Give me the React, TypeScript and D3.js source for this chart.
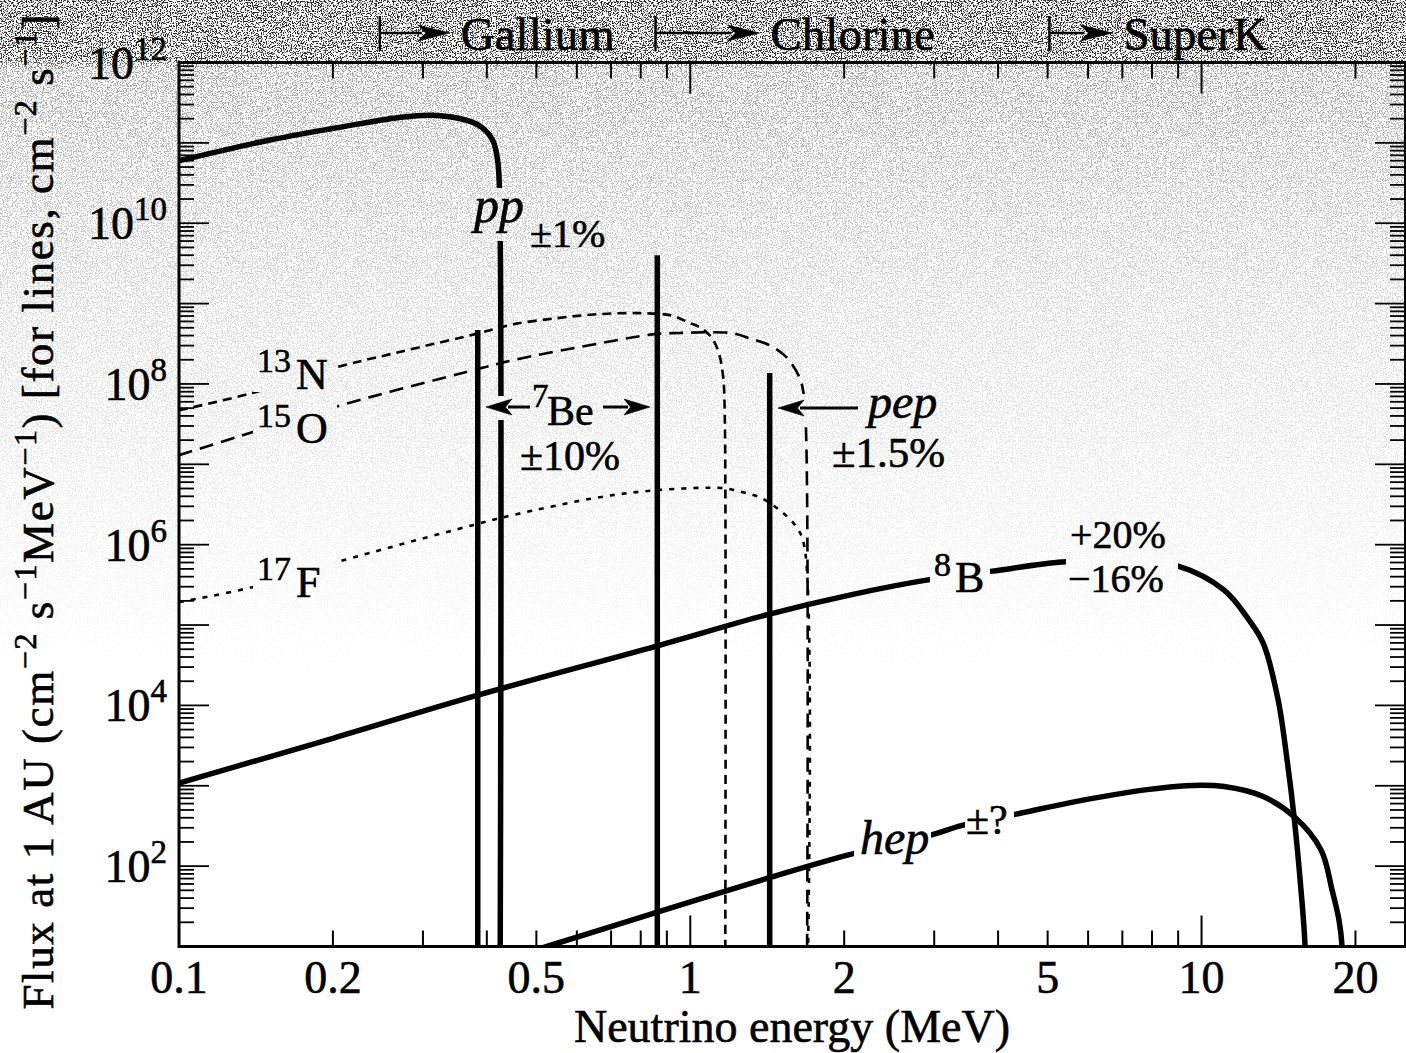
import React from 'react';
import * as d3 from 'd3';

const W = 1406;
const H = 1053;
const FONT = "'Liberation Serif', 'Times New Roman', serif";

// continuum spectra: [energy MeV, flux cm^-2 s^-1 MeV^-1]
const ppSpectrum = [
  [0.1, 6.0e10], [0.149, 1.07e11], [0.2, 1.51e11], [0.27, 2.07e11], [0.314, 2.2e11],
  [0.366, 1.9e11], [0.391, 1.56e11], [0.411, 1.07e11], [0.42, 6.0e10], [0.4235, 2.5e10], [0.4245, 1],
];
const n13Spectrum = [
  [0.1, 4.7e7], [0.139, 7.7e7], [0.2, 1.57e8], [0.27, 2.5e8], [0.387, 4.3e8], [0.449, 5.5e8],
  [0.55, 6.6e8], [0.665, 7.4e8], [0.8, 7.6e8], [0.92, 7.1e8], [1.0, 5.7e8], [1.043, 5.1e8],
  [1.076, 4.4e8], [1.11, 3.5e8], [1.14, 2.3e8], [1.16, 1.2e8], [1.168, 4.1e7], [1.17, 1],
];
const o15Spectrum = [
  [0.1, 1.3e7], [0.139, 2.5e7], [0.2, 5.1e7], [0.3755, 1.48e8], [0.449, 1.97e8], [0.665, 3.2e8],
  [0.859, 4.2e8], [0.953, 4.3e8], [1.076, 4.4e8], [1.21, 4.27e8], [1.306, 3.7e8], [1.429, 3.03e8],
  [1.529, 2.27e8], [1.585, 1.72e8], [1.635, 1.21e8], [1.655, 9.6e7], [1.68, 4.0e7], [1.69, 1],
];
const f17Spectrum = [
  [0.1, 1.93e5], [0.139, 2.96e5], [0.2036, 6.07e5], [0.3755, 1.75e6], [0.449, 2.33e6], [0.665, 3.9e6],
  [0.859, 4.76e6], [1.16, 5.05e6], [1.266, 4.5e6], [1.366, 3.9e6], [1.495, 2.69e6], [1.613, 1.66e6],
  [1.673, 9.3e5], [1.69, 1],
];
const b8Spectrum = [
  [0.1, 1.08e3], [0.2, 3.9e3], [0.384, 1.34e4], [0.859, 5.47e4], [1.429, 1.37e5], [2.048, 2.36e5],
  [2.896, 3.62e5], [3.897, 4.69e5], [5.34, 6.07e5], [6.9, 6.4e5], [9.0, 5.41e5], [11.07, 2.72e5],
  [12.39, 1.15e5], [13.2, 5.97e4], [14.12, 1.17e4], [14.7, 2.09e3], [15.17, 409], [15.65, 50.5],
  [15.94, 10], [16.0, 1],
];
const hepSpectrum = [
  [0.46, 7.8], [0.524, 10], [0.859, 26.5], [1.429, 72], [2.048, 139], [2.975, 247], [3.39, 320],
  [4.3, 438], [5.54, 617], [7.83, 895], [9.33, 1004], [11.07, 977], [13.2, 734], [15.17, 414],
  [17.13, 159], [18.0, 50.5], [18.57, 21.4], [18.83, 10], [18.9, 1],
];

// line sources [energy MeV, flux cm^-2 s^-1]
const lineEnergies = [0.384, 0.862, 1.43];
const lineFluxes = [4.7e8, 4.0e9, 1.37e8];

const xTickValues = [0.1, 0.2, 0.5, 1, 2, 5, 10, 20];
const xTickLabels = ['0.1', '0.2', '0.5', '1', '2', '5', '10', '20'];
const yLabelExponents = [2, 4, 6, 8, 10, 12];

const detectorNames = ['Gallium', 'Chlorine', 'SuperK'];
const detectorThresholds = [0.247, 0.855, 5.04];
const detectorArrowLen = [70, 104, 63];

// label knock-outs (x, y, w, h) where curves are interrupted by text
const knockouts = [
  [488, 188, 26, 53], [253, 340, 82, 52], [253, 398, 84, 48], [253, 550, 84, 50],
  [488, 396, 42, 24], [781, 394, 80, 27], [930, 545, 60, 52], [1066, 520, 112, 75],
  [854, 818, 77, 52], [965, 800, 49, 40],
];

function Arrow({ from, to, y, head = 26, half = 8, width = 3 }) {
  const dir = Math.sign(to - from);
  const base = to - dir * head;
  return (
    <g>
      <line x1={from} x2={base + dir * 4} y1={y} y2={y} stroke="#000" strokeWidth={width} />
      <polygon
        points={`${to},${y} ${base},${y - half} ${base + dir * head * 0.25},${y} ${base},${y + half}`}
        fill="#000"
      />
    </g>
  );
}

export default function App() {
  const x = d3.scaleLog().domain([0.1, 25]).range([179, 1405]);
  const y = d3.scaleLog().domain([10, 1e12]).range([946.5, 62.5]);
  const [x0, x1] = x.range();
  const [yb, yt] = y.range();

  const line = d3.line<number[]>()
    .x((d) => x(d[0]))
    .y((d) => y(d[1]))
    .curve(d3.curveCatmullRom.alpha(0.5));

  const isPow10 = (v: number) => Math.abs(Math.log10(v) - Math.round(Math.log10(v))) < 1e-9;
  const xTicks = x.ticks();
  const yTicks = d3.range(1, 12).flatMap((e) => d3.range(1, 10).map((m) => m * 10 ** e)).concat([1e12]);

  return (
    <svg width={W} height={H} style={{ position: 'absolute', left: 0, top: 0, display: 'block' }} fontFamily={FONT}>
      <defs>
        <filter id="grain" filterUnits="userSpaceOnUse" x="0" y="0" width={W} height={H} colorInterpolationFilters="sRGB">
          <feTurbulence type="fractalNoise" baseFrequency="0.8" numOctaves="2" seed="11" />
          <feColorMatrix type="matrix" values="0 0 0 0 0.15  0 0 0 0 0.15  0 0 0 0 0.15  12 0 0 0 -6.1" />
        </filter>
        <linearGradient id="grainFade" gradientUnits="userSpaceOnUse" x1="0" y1="0" x2="0" y2={H}>
          <stop offset="0" stopColor="#fff" />
          <stop offset="0.056" stopColor="#f4f4f4" />
          <stop offset="0.066" stopColor="#6a6a6a" />
          <stop offset="0.15" stopColor="#4e4e4e" />
          <stop offset="0.3" stopColor="#2c2c2c" />
          <stop offset="0.5" stopColor="#121212" />
          <stop offset="0.65" stopColor="#000" />
          <stop offset="1" stopColor="#000" />
        </linearGradient>
        <mask id="grainMask" maskUnits="userSpaceOnUse" x="0" y="0" width={W} height={H}>
          <rect width={W} height={H} fill="url(#grainFade)" />
        </mask>
        <clipPath id="plotClip">
          <rect x={x0} y={yt} width={x1 - x0} height={yb - yt} />
        </clipPath>
        <mask id="knock" maskUnits="userSpaceOnUse" x="0" y="0" width={W} height={H}>
          <rect width={W} height={H} fill="#fff" />
          {knockouts.map(([kx, ky, kw, kh], i) => (
            <rect key={i} x={kx} y={ky} width={kw} height={kh} fill="#000" />
          ))}
        </mask>
      </defs>

      <rect width={W} height={H} fill="#fff" />
      <g mask="url(#grainMask)">
        <rect width={W} height={H} filter="url(#grain)" />
      </g>

      {/* spectra */}
      <g clipPath="url(#plotClip)">
        <g mask="url(#knock)" fill="none" stroke="#000">
          <path d={line(f17Spectrum) ?? ''} strokeWidth={2.6} strokeDasharray="5,7" />
          <path d={line(o15Spectrum) ?? ''} strokeWidth={2.6} strokeDasharray="14,8" />
          <path d={line(n13Spectrum) ?? ''} strokeWidth={2.6} strokeDasharray="9,6" />
          <path d={line(ppSpectrum) ?? ''} strokeWidth={5.5} />
          <path d={line(b8Spectrum) ?? ''} strokeWidth={5.5} />
          <path d={line(hepSpectrum) ?? ''} strokeWidth={5.5} />
          {lineEnergies.map((e, i) => (
            <line key={i} x1={x(e)} x2={x(e)} y1={y(lineFluxes[i])} y2={yb} strokeWidth={5.5} />
          ))}
        </g>
      </g>

      {/* frame */}
      <g stroke="#000">
        <line x1={x0} x2={x0} y1={yt - 1.5} y2={yb + 1.5} strokeWidth={3} />
        <line x1={x1} x2={x1} y1={yt} y2={yb} strokeWidth={2} />
        <line x1={x0} x2={W} y1={yb} y2={yb} strokeWidth={3} />
        <line x1={x0} x2={W} y1={yt} y2={yt} strokeWidth={3} />
        {xTicks.map((v, i) => {
          const len = isPow10(v) ? 31 : 16;
          return (
            <g key={i} strokeWidth={2}>
              <line x1={x(v)} x2={x(v)} y1={yb} y2={yb - len} />
              <line x1={x(v)} x2={x(v)} y1={yt} y2={yt + len} />
            </g>
          );
        })}
        {yTicks.map((v, i) => {
          const len = isPow10(v) ? 30 : 15;
          return (
            <g key={i} strokeWidth={1.8}>
              <line x1={x0} x2={x0 + len} y1={y(v)} y2={y(v)} />
              <line x1={x1} x2={x1 - len} y1={y(v)} y2={y(v)} />
            </g>
          );
        })}
      </g>

      <g stroke="#000" strokeWidth={0.6}>
        {/* tick labels */}
        {xTickValues.map((v, i) => (
          <text key={i} x={x(v)} y={993} fontSize={46} textAnchor="middle">{xTickLabels[i]}</text>
        ))}
        {yLabelExponents.map((e) => (
          <text key={e} x={167} y={y(10 ** e) + 16} fontSize={46} textAnchor="end">
            10<tspan dy={-19} fontSize={33}>{e}</tspan>
          </text>
        ))}

        {/* axis titles */}
        <text x={792} y={1042} fontSize={46} textAnchor="middle">Neutrino energy (MeV)</text>
        <text transform="translate(53,512) rotate(-90)" fontSize={45} textAnchor="middle" textLength={995} lengthAdjust="spacing">
          Flux at 1 AU (cm<tspan dy={-17} fontSize={32}>−2</tspan>
          <tspan dy={17}> s</tspan><tspan dy={-17} fontSize={32}>−1</tspan>
          <tspan dy={17}>MeV</tspan><tspan dy={-17} fontSize={32}>−1</tspan>
          <tspan dy={17}>) [for lines, cm</tspan><tspan dy={-17} fontSize={32}>−2</tspan>
          <tspan dy={17}> s</tspan><tspan dy={-17} fontSize={32}>−1</tspan>
          <tspan dy={17}>]</tspan>
        </text>

        {/* detector thresholds */}
        {detectorNames.map((name, i) => {
          const bx = x(detectorThresholds[i]);
          const tip = bx + detectorArrowLen[i];
          return (
            <g key={name}>
              <line x1={bx} x2={bx} y1={16} y2={51} strokeWidth={2.4} />
              <Arrow from={bx} to={tip} y={33} head={32} half={8} width={2.6} />
              <text x={tip + 11} y={50} fontSize={47}>{name}</text>
            </g>
          );
        })}

        {/* source labels */}
        <text x={474} y={222} fontSize={50} fontStyle="italic">pp</text>
        <text x={530} y={247} fontSize={40}>±1%</text>

        <text x={257} y={372} fontSize={34}>13</text>
        <text x={296} y={389} fontSize={44}>N</text>
        <text x={257} y={427} fontSize={34}>15</text>
        <text x={296} y={443} fontSize={44}>O</text>
        <text x={257} y={580} fontSize={34}>17</text>
        <text x={296} y={597} fontSize={44}>F</text>

        <Arrow from={530} to={486} y={407} />
        <text x={532} y={407} fontSize={33}>7</text>
        <text x={547} y={425} fontSize={42}>Be</text>
        <Arrow from={603} to={650} y={407} />
        <text x={520} y={470} fontSize={42}>±10%</text>

        <Arrow from={858} to={778} y={408} />
        <text x={868} y={418} fontSize={48} fontStyle="italic">pep</text>
        <text x={832} y={467} fontSize={43}>±1.5%</text>

        <text x={934} y={576} fontSize={34}>8</text>
        <text x={955} y={592} fontSize={44}>B</text>
        <text x={1070} y={548} fontSize={40}>+20%</text>
        <text x={1068} y={592} fontSize={40}>−16%</text>

        <text x={860} y={854} fontSize={48} fontStyle="italic">hep</text>
        <text x={966} y={834} fontSize={42}>±?</text>
      </g>
    </svg>
  );
}
